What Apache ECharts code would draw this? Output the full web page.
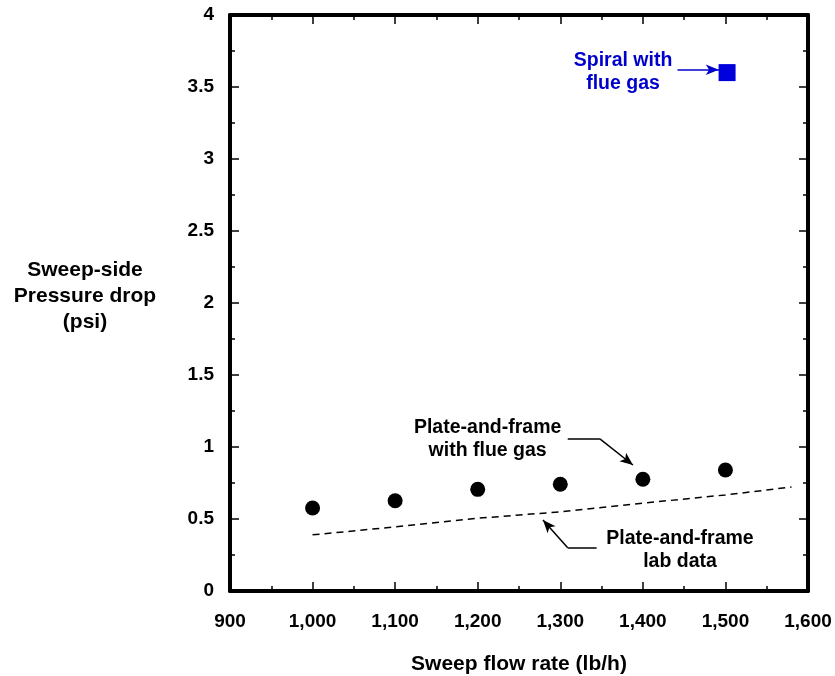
<!DOCTYPE html>
<html><head><meta charset="utf-8">
<script src="https://cdn.jsdelivr.net/npm/echarts@6/dist/echarts.min.js"></script>
<style>html,body{margin:0;padding:0;background:#fff}#c{width:835px;height:676px}</style>
</head><body><div id="c"></div>
<script>
// Data
const flueGasX = [1000, 1100, 1200, 1300, 1400, 1500];
const flueGasY = [0.576, 0.627, 0.706, 0.741, 0.776, 0.840];
const labX = [1000, 1100, 1200, 1300, 1400, 1500, 1580];
const labY = [0.390, 0.445, 0.505, 0.550, 0.610, 0.667, 0.722];
const spiralX = [1502];
const spiralY = [3.60];
const xTicks = [900, 1000, 1100, 1200, 1300, 1400, 1500, 1600];
const yTicks = [0, 0.5, 1, 1.5, 2, 2.5, 3, 3.5, 4];

const FONT = 'Liberation Sans, Arial, sans-serif';
const chart = echarts.init(document.getElementById('c'), null, {renderer: 'canvas'});

function fmtX(v) { return String(v).replace(/\B(?=(\d{3})+(?!\d))/g, ','); }

const axisCommon = {
  axisLine: {show: true, onZero: false, lineStyle: {color: '#000', width: 4}},
  axisTick: {show: true, inside: true, length: 9, lineStyle: {color: '#000', width: 1.5}},
  minorTick: {show: true, splitNumber: 2, length: 5, lineStyle: {color: '#000', width: 1.5}},
  splitLine: {show: false}
};

const xBase = {type: 'value', min: xTicks[0], max: xTicks[xTicks.length - 1], interval: 100};
const yBase = {type: 'value', min: yTicks[0], max: yTicks[yTicks.length - 1], interval: 0.5};

const labelStyle = {fontFamily: FONT, fontWeight: 'bold', fontSize: 19, color: '#000'};

function annot(x, y, text, color) {
  return {value: [x, y], label: {show: true, position: 'inside', formatter: text,
    fontFamily: FONT, fontWeight: 'bold', fontSize: 19.5, lineHeight: 23, color: color, align: 'center'}};
}

function seg(x1, y1, x2, y2, arrow) {
  return [{coord: [x1, y1], symbol: 'none'}, {coord: [x2, y2], symbol: arrow ? 'arrow' : 'none'}];
}

chart.setOption({
  animation: false,
  grid: {left: 230, right: 27, top: 15, bottom: 85, containLabel: false, outerBoundsMode: 'none'},
  xAxis: [
    Object.assign({}, xBase, axisCommon, {position: 'bottom',
      axisLabel: Object.assign({}, labelStyle, {margin: 21, formatter: fmtX}),
      name: 'Sweep flow rate (lb/h)', nameLocation: 'middle', nameGap: 63,
      nameTextStyle: {fontFamily: FONT, fontWeight: 'bold', fontSize: 21, color: '#000'}}),
    Object.assign({}, xBase, axisCommon, {position: 'top', axisLabel: {show: false}})
  ],
  yAxis: [
    Object.assign({}, yBase, axisCommon, {position: 'left',
      axisLabel: Object.assign({}, labelStyle, {margin: 16})}),
    Object.assign({}, yBase, axisCommon, {position: 'right', axisLabel: {show: false}})
  ],
  graphic: [{
    type: 'text', x: 85, y: 296,
    style: {text: 'Sweep-side\nPressure drop\n(psi)', textAlign: 'center', textVerticalAlign: 'middle',
      font: 'bold 21px ' + FONT, lineHeight: 26, fill: '#000'}
  }],
  series: [
    {type: 'line', name: 'Plate-and-frame lab data', data: labX.map((x, i) => [x, labY[i]]),
      symbol: 'none', lineStyle: {color: '#000', width: 1.5, type: [7, 5]}, z: 2},
    {type: 'scatter', name: 'Plate-and-frame with flue gas', data: flueGasX.map((x, i) => [x, flueGasY[i]]),
      symbol: 'circle', symbolSize: 15, itemStyle: {color: '#000', opacity: 1}, z: 3},
    {type: 'scatter', name: 'Spiral with flue gas', data: spiralX.map((x, i) => [x, spiralY[i]]),
      symbol: 'rect', symbolSize: 17, itemStyle: {color: '#0000dd', opacity: 1}, z: 3},
    {type: 'scatter', name: 'annotations', symbolSize: 0, silent: true, z: 5,
      itemStyle: {opacity: 1},
      data: [
        annot(1376, 3.60, 'Spiral with\nflue gas', '#0000cc'),
        annot(1212, 1.056, 'Plate-and-frame\nwith flue gas', '#000'),
        annot(1445, 0.285, 'Plate-and-frame\nlab data', '#000')
      ],
      markLine: {silent: true, symbolSize: [8, 13], label: {show: false},
        lineStyle: {color: '#000', width: 1.5, type: 'solid', opacity: 1},
        data: [
          [{coord: [1442, 3.62], symbol: 'none', lineStyle: {color: '#0000cc'}}, {coord: [1492, 3.62], symbol: 'arrow', itemStyle: {color: '#0000cc'}}],
          seg(1309, 1.056, 1348, 1.056, false),
          seg(1348, 1.056, 1388, 0.875, true),
          seg(1344, 0.30, 1309, 0.30, false),
          seg(1309, 0.30, 1279, 0.493, true)
        ]}
    }
  ]
});
</script></body></html>
